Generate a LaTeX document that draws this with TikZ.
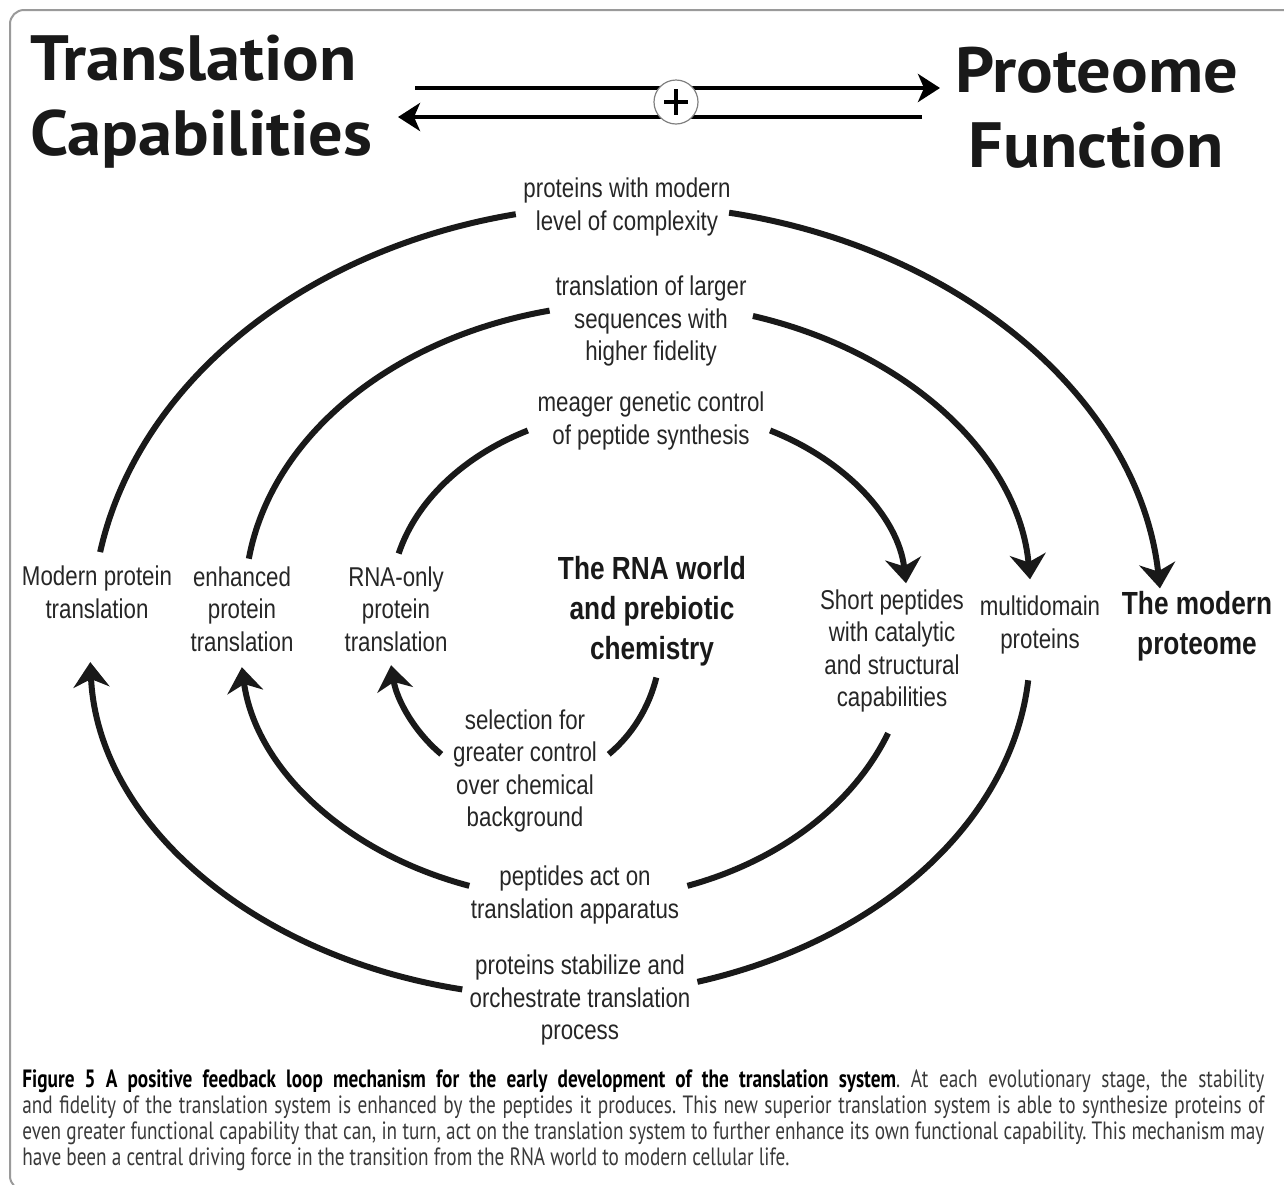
\documentclass[tikz,border=0pt]{standalone}
\usepackage{fontspec}
\usetikzlibrary{arrows.meta,calc}
\setmainfont{Liberation Sans}
\newfontfamily\lblfont[FakeStretch=0.82]{Liberation Sans}
\newfontfamily\headfont[FakeStretch=1.07]{PT Sans}
\newfontfamily\capfont[FakeStretch=0.77]{PT Sans}
\definecolor{txt}{HTML}{262626}
\definecolor{captxt}{HTML}{3A3A3A}
\definecolor{framegray}{HTML}{9A9A9A}
\tikzset{
  loopline/.style={line width=3pt, draw=black!90},
  looparrow/.style={loopline, -{Stealth[length=12.5pt,width=18pt,inset=4pt]}},
  headarrow/.style={line width=2pt, -{Stealth[length=11pt,width=14pt,inset=3pt]}},
  lbl/.style={font={\lblfont\fontsize{13.6pt}{16.3pt}\selectfont}, align=center, inner sep=0pt, text=txt},
  blbl/.style={font={\lblfont\bfseries\fontsize{16pt}{20pt}\selectfont}, align=center, inner sep=0pt, text=black!90},
  head/.style={font={\headfont\bfseries\fontsize{32pt}{38pt}\selectfont}, inner sep=0pt, anchor=base west, text=black!90},
  capline/.style={font={\capfont\frenchspacing\fontsize{12.5pt}{13pt}\selectfont}, inner sep=0pt, anchor=base west, text=captxt},
}
\begin{document}
\begin{tikzpicture}[x=0.5pt,y=-0.5pt]
\useasboundingbox (0,0) rectangle (1284,1184);
\clip (0,0) rectangle (1284,1184);
\draw[framegray, line width=1pt, rounded corners=7pt] (10,10) rectangle (1330,1190);

% header
\node[head] (tc1) at (30,80) {Translation};
\node[head] (tc2) at (30,155) {Capabilities};
\node[head] (pf1) at (955,92) {Proteome};
\node[head] (pf2) at (968,167) {Function};
\coordinate (ha1) at (415,88);
\coordinate (ha2) at (940,88);
\coordinate (hb1) at (922,117);
\coordinate (hb2) at (398,117);
\draw[headarrow] (ha1) -- (ha2);
\draw[headarrow] (hb1) -- (hb2);
\node[circle, draw=gray, fill=white, line width=0.6pt, minimum size=22pt, inner sep=0pt] (plus) at (676,102) {};
\draw[line width=2.2pt] ($(plus)+(-12,0)$) -- ($(plus)+(12,0)$);
\draw[line width=2.2pt] ($(plus)+(0,-13)$) -- ($(plus)+(0,13)$);

% labels
\node[lbl] (t1) at (627,207) {proteins with modern\\level of complexity};
\node[lbl] (t2) at (651,321) {translation of larger\\sequences with\\higher fidelity};
\node[lbl] (t3) at (651,421) {meager genetic control\\of peptide synthesis};
\node[lbl] (l1) at (97,592) {Modern protein\\translation};
\node[lbl] (l2) at (242,609) {enhanced\\protein\\translation};
\node[lbl] (l3) at (396,609) {RNA-only\\protein\\translation};
\node[blbl] (c) at (652,611) {The RNA world\\and prebiotic\\chemistry};
\node[lbl] (r1) at (892,651) {Short peptides\\with catalytic\\and structural\\capabilities};
\node[lbl] (r2) at (1040,625) {multidomain\\proteins};
\node[blbl] (r3) at (1197,626) {The modern\\proteome};
\node[lbl] (b1) at (525,771) {selection for\\greater control\\over chemical\\background};
\node[lbl] (b2) at (575,895) {peptides act on\\translation apparatus};
\node[lbl] (b3) at (580,1000) {proteins stabilize and\\orchestrate translation\\process};

% outer top loop
\coordinate (OT) at (627,625);
\coordinate (ot1) at ($(OT)+(-170:535 and 420)$);
\coordinate (ot2) at ($(OT)+(-79:535 and 420)$);
\draw[loopline] (ot1) arc[start angle=-170, end angle=-102, x radius=535, y radius=420];
\draw[looparrow] (ot2) arc[start angle=-79, end angle=-5, x radius=535, y radius=420];
% middle top loop
\coordinate (MT) at (638,600);
\coordinate (mt1) at ($(MT)+(-172:393 and 297)$);
\coordinate (mt2) at ($(MT)+(-73:393 and 297)$);
\draw[loopline] (mt1) arc[start angle=-172, end angle=-103, x radius=393, y radius=297];
\draw[looparrow] (mt2) arc[start angle=-73, end angle=-4, x radius=393, y radius=297];
% inner top loop
\coordinate (IT) at (649,600);
\coordinate (it1) at ($(IT)+(-166:258 and 192)$);
\coordinate (it2) at ($(IT)+(-62:258 and 192)$);
\draw[loopline] (it1) arc[start angle=-166, end angle=-118, x radius=258, y radius=192];
\draw[looparrow] (it2) arc[start angle=-62, end angle=-5, x radius=258, y radius=192];
% outer bottom loop
\coordinate (OB) at (560,650);
\coordinate (ob1) at ($(OB)+(102:470 and 347)$);
\coordinate (ob2) at ($(OB)+(5:470 and 347)$);
\draw[looparrow] (ob1) arc[start angle=102, end angle=178, x radius=470, y radius=347];
\draw[loopline] (ob2) arc[start angle=5, end angle=73, x radius=470, y radius=347];
% middle bottom loop
\coordinate (MB) at (580,640);
\coordinate (mb1) at ($(MB)+(109:340 and 260)$);
\coordinate (mb2) at ($(MB)+(21:330 and 260)$);
\draw[looparrow] (mb1) arc[start angle=109, end angle=174, x radius=340, y radius=260];
\draw[loopline] (mb2) arc[start angle=21, end angle=71, x radius=330, y radius=260];
% inner bottom loop
\coordinate (IB) at (525,640);
\coordinate (ib1) at ($(IB)+(128:136 and 145)$);
\coordinate (ib2) at ($(IB)+(15:136 and 145)$);
\draw[looparrow] (ib1) arc[start angle=128, end angle=170, x radius=136, y radius=145];
\draw[loopline] (ib2) arc[start angle=15, end angle=52, x radius=136, y radius=145];

% caption
\node[capline] (cap1) at (22,1087) {\hbox to 621pt{\textcolor{black}{\bfseries Figure 5 A positive feedback loop mechanism for the early development of the translation system}. At each evolutionary stage, the stability}};
\node[capline] (cap2) at (22,1113) {\hbox to 621pt{and fidelity of the translation system is enhanced by the peptides it produces. This new superior translation system is able to synthesize proteins of}};
\node[capline] (cap3) at (22,1139) {\hbox to 621pt{even greater functional capability that can, in turn, act on the translation system to further enhance its own functional capability. This mechanism may}};
\node[capline] (cap4) at (22,1165) {have been a central driving force in the transition from the RNA world to modern cellular life.};
\end{tikzpicture}
\end{document}
